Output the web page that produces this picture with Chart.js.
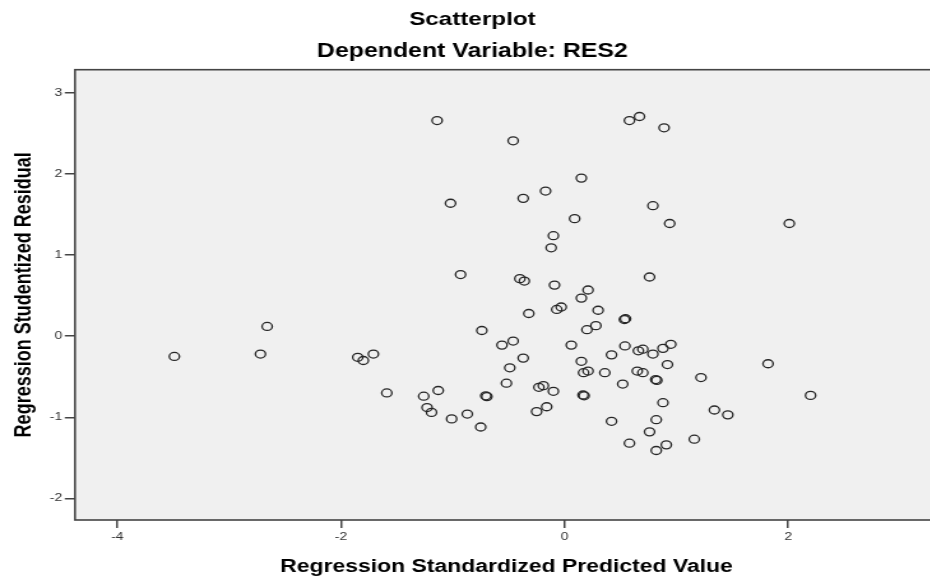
<!DOCTYPE html>
<html>
<head>
<meta charset="utf-8">
<script src="https://cdn.jsdelivr.net/npm/chart.js@4/dist/chart.umd.min.js"></script>
<style>
  html, body { margin: 0; padding: 0; background: #fff; }
  body { width: 930px; height: 578px; overflow: hidden; }
  /* the reference picture is stretched sideways, so stretch the canvas the same way */
  #wrap { width: 741px; height: 578px; transform: scaleX(1.275); transform-origin: 0 0; }
</style>
</head>
<body>
<div id="wrap"><canvas id="chart" width="741" height="578"></canvas></div>
<script>
// Regression Standardized Predicted Value
const predicted = [
  -3.49, -2.66, -2.72, -1.85, -1.80, -1.71, -1.59, -1.26, -1.13, -1.23, -1.19,
  -1.14, -1.02, -0.93, -1.01, -0.87, -0.75, -0.74, -0.705, -0.695,
  -0.56, -0.46, -0.52, -0.49, -0.37, -0.46, -0.37, -0.40, -0.36, -0.32,
  -0.25, -0.23, -0.19, -0.16, -0.10, -0.17, -0.10, -0.12, -0.09, -0.07, -0.03,
  0.06, 0.09, 0.15, 0.15, 0.21, 0.28, 0.20, 0.30,
  0.15, 0.17, 0.21, 0.165, 0.175, 0.36, 0.42, 0.42, 0.52,
  0.535, 0.545, 0.54, 0.58, 0.67, 0.89, 0.79, 0.94, 2.01, 0.76,
  0.66, 0.70, 0.79, 0.88, 0.95, 0.92, 0.65, 0.70, 0.815, 0.825, 1.22, 1.82, 2.20,
  0.88, 1.34, 1.46, 0.82, 0.76, 1.16, 0.58, 0.91, 0.82
];
// Regression Studentized Residual
const residual = [
  -0.25, 0.12, -0.22, -0.26, -0.30, -0.22, -0.70, -0.74, -0.67, -0.88, -0.94,
  2.66, 1.64, 0.76, -1.02, -0.96, -1.12, 0.07, -0.735, -0.745,
  -0.11, -0.06, -0.58, -0.39, -0.27, 2.41, 1.70, 0.71, 0.68, 0.28,
  -0.93, -0.63, -0.61, -0.87, -0.68, 1.79, 1.24, 1.09, 0.63, 0.33, 0.36,
  -0.11, 1.45, 1.95, 0.47, 0.57, 0.13, 0.08, 0.32,
  -0.31, -0.45, -0.43, -0.725, -0.735, -0.45, -0.23, -1.05, -0.59,
  0.205, 0.215, -0.12, 2.66, 2.71, 2.57, 1.61, 1.39, 1.39, 0.73,
  -0.18, -0.16, -0.22, -0.15, -0.10, -0.35, -0.43, -0.45, -0.535, -0.545, -0.51, -0.34, -0.73,
  -0.82, -0.91, -0.97, -1.03, -1.18, -1.27, -1.32, -1.34, -1.41
];
const xTicks = [-4, -2, 0, 2];
const yTicks = [-2, -1, 0, 1, 2, 3];

const points = predicted.map((x, i) => ({ x: x, y: residual[i] }));

// grey plot background and frame, like SPSS
const plotFrame = {
  id: 'plotFrame',
  beforeDatasetsDraw(chart) {
    const { ctx, chartArea: a } = chart;
    ctx.save();
    ctx.fillStyle = '#f0f0f0';
    ctx.fillRect(a.left, a.top, a.right - a.left, a.bottom - a.top);
    ctx.restore();
  },
  afterDatasetsDraw(chart) {
    const { ctx, chartArea: a } = chart;
    ctx.save();
    ctx.strokeStyle = '#444';
    ctx.lineWidth = 1.6;
    ctx.strokeRect(a.left, a.top, a.right - a.left, a.bottom - a.top);
    ctx.restore();
  }
};

const tickFont = { family: "'Liberation Sans', Arial, sans-serif", size: 11 };
const titleFont = { family: "'Liberation Sans', Arial, sans-serif", size: 18, weight: 'bold' };

new Chart(document.getElementById('chart'), {
  type: 'scatter',
  data: {
    datasets: [{
      data: points,
      pointStyle: 'circle',
      pointRadius: 4,
      pointHoverRadius: 4,
      borderColor: '#262626',
      borderWidth: 1.3,
      backgroundColor: 'rgba(0,0,0,0)'
    }]
  },
  options: {
    responsive: false,
    animation: false,
    layout: { padding: 0 },
    plugins: {
      legend: { display: false },
      tooltip: { enabled: false },
      title: {
        display: true,
        text: 'Scatterplot',
        color: '#000',
        font: { family: "'Liberation Sans', Arial, sans-serif", size: 19, weight: 'bold' },
        padding: { top: 8, bottom: 0 }
      },
      subtitle: {
        display: true,
        text: 'Dependent Variable: RES2',
        color: '#000',
        font: { family: "'Liberation Sans', Arial, sans-serif", size: 19.5, weight: 'bold' },
        padding: { top: 9.5, bottom: 6 }
      }
    },
    scales: {
      x: {
        type: 'linear',
        min: -4.379,
        max: 3.34,
        afterFit: (s) => { s.height = 58; },
        afterBuildTicks: (s) => { s.ticks = xTicks.map(v => ({ value: v })); },
        border: { display: false },
        grid: { drawOnChartArea: false, drawTicks: true, tickLength: 8, tickColor: '#444', lineWidth: 1.5 },
        ticks: { font: tickFont, color: '#333', padding: 2, maxRotation: 0 },
        title: { display: true, text: 'Regression Standardized Predicted Value', color: '#000', font: titleFont, padding: { top: 0, bottom: 0 } }
      },
      y: {
        type: 'linear',
        min: -2.267,
        max: 3.287,
        afterFit: (s) => { s.width = 58.8; },
        afterBuildTicks: (s) => { s.ticks = yTicks.map(v => ({ value: v })); },
        border: { display: false },
        grid: { drawOnChartArea: false, drawTicks: true, tickLength: 8, tickColor: '#444', lineWidth: 1.5 },
        ticks: { font: tickFont, color: '#333', padding: 2 },
        title: { display: true, text: 'Regression Studentized Residual', color: '#000', font: titleFont, padding: { top: 8, bottom: 0 } }
      }
    }
  },
  plugins: [plotFrame]
});
</script>
</body>
</html>
